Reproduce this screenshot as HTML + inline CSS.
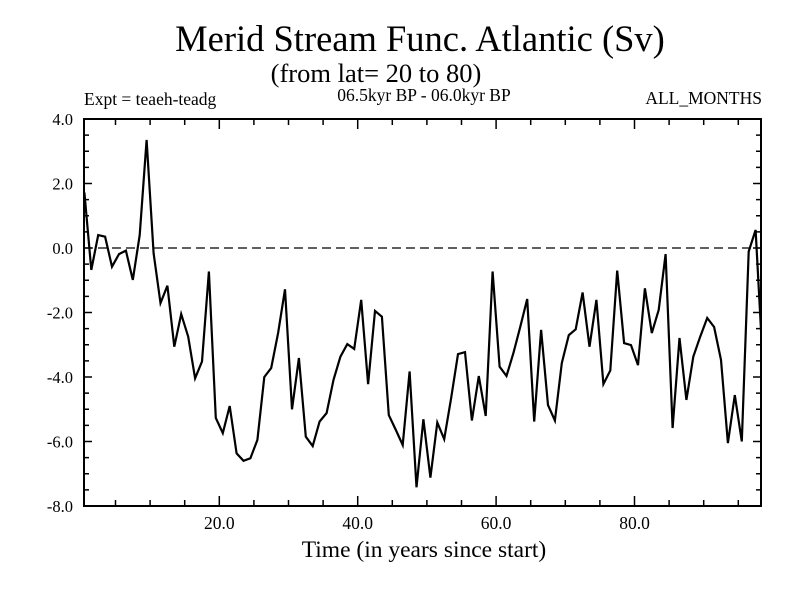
<!DOCTYPE html>
<html><head><meta charset="utf-8"><style>
body{margin:0;background:#fff}
svg{display:block;font-family:"Liberation Serif",serif}
</style></head><body>
<svg id="chart" width="800" height="600" viewBox="0 0 800 600" xmlns="http://www.w3.org/2000/svg">
<rect width="800" height="600" fill="#fff"/>
<text x="420" y="51" font-size="36.5" text-anchor="middle">Merid Stream Func. Atlantic (Sv)</text>
<text x="376" y="82" font-size="26.5" text-anchor="middle">(from lat= 20 to 80)</text>
<text x="84" y="105" font-size="17.5">Expt = teaeh-teadg</text>
<text x="424" y="101" font-size="17.5" text-anchor="middle">06.5kyr BP - 06.0kyr BP</text>
<text x="762" y="104" font-size="17.5" text-anchor="end">ALL_MONTHS</text>
<text x="424" y="557" font-size="23.5" text-anchor="middle">Time (in years since start)</text>
<defs><clipPath id="clip"><rect x="84" y="119" width="677" height="387"/></clipPath></defs>
<g id="axes"></g>
<g id="series" clip-path="url(#clip)"></g>
</svg>
<script>
const values = [1.72,-0.68,0.40,0.35,-0.58,-0.19,-0.08,-0.99,0.4,3.35,
-0.16,-1.71,-1.17,-3.06,-2.05,-2.75,-4.04,-3.52,-0.73,-5.27,
-5.74,-4.9,-6.37,-6.6,-6.52,-5.95,-4.0,-3.72,-2.64,-1.28,
-5.0,-3.41,-5.85,-6.14,-5.38,-5.12,-4.09,-3.37,-2.98,-3.13,
-1.61,-4.22,-1.95,-2.13,-5.18,-5.64,-6.11,-3.83,-7.42,-5.31,
-7.12,-5.41,-5.93,-4.66,-3.29,-3.23,-5.35,-3.97,-5.21,-0.73,
-3.68,-3.97,-3.26,-2.44,-1.58,-5.38,-2.54,-4.87,-5.35,-3.57,
-2.7,-2.52,-1.38,-3.06,-1.61,-4.22,-3.8,-0.7,-2.95,-3.01,
-3.63,-1.25,-2.64,-1.92,-0.19,-5.58,-2.79,-4.71,-3.37,-2.75,
-2.17,-2.45,-3.47,-6.05,-4.56,-6.0,-0.11,0.56,-3.4];
const times = values.map((v,i)=>i+0.5);
const yTicks = [4,2,0,-2,-4,-6,-8];
const yTickLabels = ["4.0","2.0","0.0","-2.0","-4.0","-6.0","-8.0"];
const xTicks = [20,40,60,80];
const xTickLabels = ["20.0","40.0","60.0","80.0"];
const NS="http://www.w3.org/2000/svg";
const L=84,R=761,T=119,B=506;
const xs=t=>80.9+6.92*t;
const ys=v=>T+(4-v)*(B-T)/12;
function mk(tag,attrs,parent){const e=document.createElementNS(NS,tag);for(const k in attrs)e.setAttribute(k,attrs[k]);parent.appendChild(e);return e;}
const ax=document.getElementById('axes');
const frame=mk('rect',{x:L,y:T,width:R-L,height:B-T,fill:'none',stroke:'#000','stroke-width':2},ax);


for(let v=-8;v<=4.001;v+=0.5){
  const y=ys(v);const maj=Math.abs(v%2)<1e-6;const len=maj?8:5;
  const a=mk('line',{x1:L,x2:L+len,y1:y,y2:y,stroke:'#000','stroke-width':1.5},ax);
  
  
  const b=mk('line',{x1:R,x2:R-len,y1:y,y2:y,stroke:'#000','stroke-width':1.5},ax);
  
  
}
yTicks.forEach((v,i)=>{
  const t=mk('text',{x:73,y:ys(v)+6,'font-size':16.5,'text-anchor':'end'},ax);t.textContent=yTickLabels[i];
  
  
});
for(let t=5;t<=95;t+=5){
  const x=xs(t);const maj=t%20===0;const len=maj?10:6;
  const a=mk('line',{x1:x,x2:x,y1:B,y2:B-len,stroke:'#000','stroke-width':1.5},ax);
  
  
  const b=mk('line',{x1:x,x2:x,y1:T,y2:T+len,stroke:'#000','stroke-width':1.5},ax);
  
  
}
xTicks.forEach((v,i)=>{
  const t=mk('text',{x:xs(v),y:529,'font-size':17.5,'text-anchor':'middle'},ax);t.textContent=xTickLabels[i];
  
  
});
const zl=mk('line',{x1:L,x2:R,y1:ys(0),y2:ys(0),stroke:'#000','stroke-width':1.2,'stroke-dasharray':'9,5'},ax);


const sg=document.getElementById('series');
const p=mk('polyline',{points:values.map((v,i)=>xs(times[i]).toFixed(1)+','+ys(v).toFixed(1)).join(' '),fill:'none',stroke:'#000','stroke-width':2.2,'stroke-linejoin':'miter'},sg);


</script>
</body></html>
